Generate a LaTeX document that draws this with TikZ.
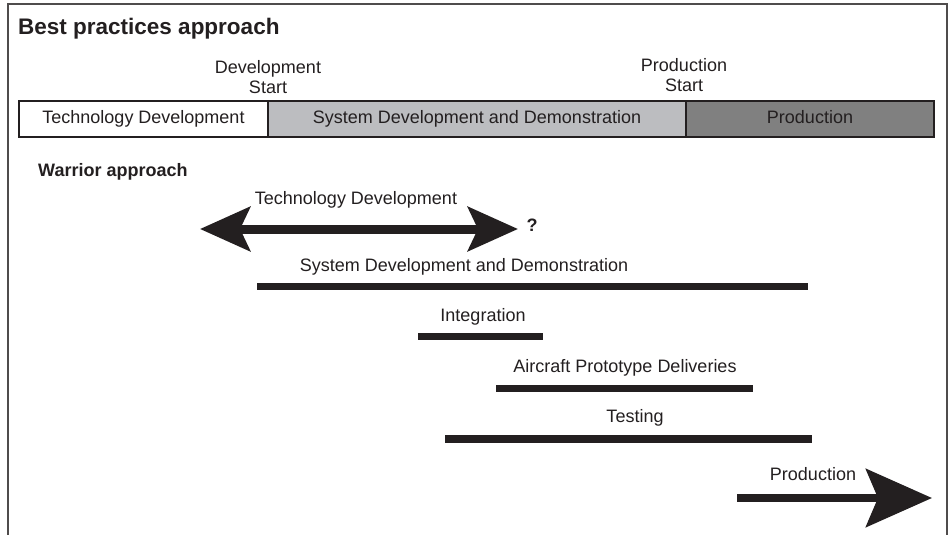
\documentclass[tikz,border=0pt]{standalone}
\usepackage{fontspec}
\setmainfont{Liberation Sans}
\usetikzlibrary{arrows.meta, positioning}
\definecolor{inkdark}{HTML}{231F20}
\definecolor{sddgray}{HTML}{BCBDC0}
\definecolor{prodgray}{HTML}{808080}
\tikzset{
    phase/.style={draw=inkdark, line width=2.5pt, minimum height=36pt, inner sep=0pt, outer sep=0pt,
        text height=13pt, text depth=4pt, font=\fontsize{18}{21}\selectfont, text=inkdark},
    tasklabel/.style={font=\fontsize{18}{20}\selectfont, text=inkdark, inner sep=0pt, align=center},
    titletext/.style={font=\bfseries\fontsize{22.5}{26}\selectfont, text=inkdark, inner sep=0pt, anchor=west},
    taskbar/.style={draw=inkdark, line width=7pt},
    bigarrow/.style={draw=inkdark, line width=8pt, arrows={-Stealth[length=66pt, width=58pt, inset=12pt]}}
}

\begin{document}
\begin{tikzpicture}[x=1pt, y=-1pt]
    \useasboundingbox (0,0) rectangle (951,535);
    % open frame
    \draw[inkdark!80, line width=1.2pt] (8,535) -- (8,4) -- (947,4) -- (947,535);

    % best practices
    \node[titletext] (best) at (18,29) {Best practices approach};
    \node[phase, minimum width=249pt] (techbox) at (143.5,119) {Technology Development};
    \node[phase, fill=sddgray, minimum width=418pt, right=0pt of techbox] (sddbox) {System Development and Demonstration};
    \node[phase, fill=prodgray, minimum width=248pt, right=0pt of sddbox] (prodbox) {Production};
    \node[tasklabel] (devstart) at (268,77) {Development\\Start};
    \node[tasklabel] (prodstart) at (684,75) {Production\\Start};

    % warrior
    \node[titletext, font=\bfseries\fontsize{18}{22}\selectfont] (warrior) at (38,172) {Warrior approach};

    \node[tasklabel] (techlbl) at (356,200) {Technology Development};
    \coordinate (tech-l) at (200,229);
    \coordinate (tech-r) at (518,229);
    \draw[bigarrow, line width=9pt, arrows={Stealth[length=50pt, width=44pt, inset=10pt]-Stealth[length=50pt, width=44pt, inset=10pt]}] (tech-l) -- (tech-r);
    \node[tasklabel, font=\bfseries\fontsize{18}{20}\selectfont] (query) at (532,225) {?};

    \node[tasklabel] (sddlbl) at (464,267) {System Development and Demonstration};
    \coordinate (sdd-l) at (257,286);
    \coordinate (sdd-r) at (808,286);
    \draw[taskbar] (sdd-l) -- (sdd-r);

    \node[tasklabel] (intlbl) at (483,317) {Integration};
    \coordinate (int-l) at (418,336);
    \coordinate (int-r) at (543,336);
    \draw[taskbar] (int-l) -- (int-r);

    \node[tasklabel] (acplbl) at (625,368) {Aircraft Prototype Deliveries};
    \coordinate (acp-l) at (496,388);
    \coordinate (acp-r) at (753,388);
    \draw[taskbar] (acp-l) -- (acp-r);

    \node[tasklabel] (testlbl) at (635,418) {Testing};
    \coordinate (test-l) at (445,439);
    \coordinate (test-r) at (812,439);
    \draw[taskbar, line width=8pt] (test-l) -- (test-r);

    \node[tasklabel] (prodlbl) at (813,474) {Production};
    \coordinate (prod-l) at (737,498);
    \coordinate (prod-r) at (932,498);
    \draw[bigarrow] (prod-l) -- (prod-r);
\end{tikzpicture}
\end{document}
